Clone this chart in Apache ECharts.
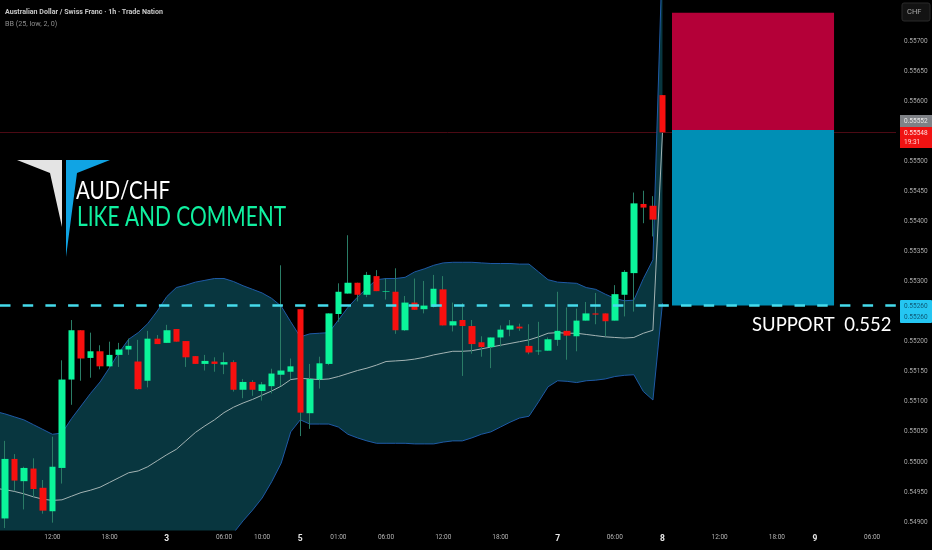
<!DOCTYPE html>
<html><head><meta charset="utf-8">
<style>html,body{margin:0;padding:0;background:#000}#c{width:932px;height:550px}</style>
<script src="https://cdn.jsdelivr.net/npm/echarts@6/dist/echarts.min.js"></script>
</head><body><div id="c"></div>
<script>
const opens=[0.54905,0.54906,0.55005,0.54968,0.54989,0.54957,0.54918,0.5499,0.55137,0.55219,0.55173,0.55184,0.55159,0.55178,0.55187,0.55167,0.55135,0.55205,0.55198,0.55221,0.55201,0.55176,0.55163,0.55167,0.55162,0.55166,0.5512,0.55133,0.55118,0.55126,0.55145,0.5515,0.55254,0.55081,0.55137,0.55163,0.55246,0.5528,0.55298,0.55278,0.55309,0.55283,0.55283,0.55219,0.55265,0.55254,0.55258,0.55287,0.55227,0.55236,0.55226,0.55199,0.55191,0.55207,0.5522,0.55225,0.55193,0.55184,0.55185,0.55203,0.55218,0.55209,0.55235,0.55247,0.55247,0.55235,0.55278,0.55314,0.55429,0.55426,0.5561];
const closes=[0.54906,0.55005,0.54969,0.5499,0.54955,0.54919,0.54992,0.55137,0.55219,0.55172,0.55184,0.55159,0.55178,0.55187,0.55193,0.55121,0.55205,0.55196,0.55219,0.552,0.55174,0.55163,0.55168,0.55163,0.55166,0.5512,0.55133,0.5512,0.55129,0.55147,0.55152,0.55159,0.55082,0.55138,0.55164,0.55247,0.55283,0.55298,0.55278,0.55311,0.55284,0.55284,0.55219,0.55265,0.55253,0.5526,0.55288,0.55227,0.55234,0.55226,0.55196,0.55191,0.55207,0.5522,0.55227,0.55222,0.55182,0.55185,0.55204,0.55218,0.5521,0.55235,0.55247,0.55245,0.55234,0.55279,0.55316,0.5543,0.55423,0.55403,0.55548];
const lows=[0.54895,0.5489,0.54952,0.54921,0.54942,0.54914,0.54899,0.54964,0.55095,0.55135,0.5514,0.55154,0.55157,0.55158,0.55178,0.5512,0.55124,0.55196,0.55198,0.552,0.55158,0.55163,0.55152,0.5515,0.55146,0.55117,0.55106,0.5511,0.55102,0.55114,0.55126,0.55138,0.55043,0.55055,0.55122,0.55161,0.55233,0.5528,0.55267,0.55274,0.55284,0.5527,0.55213,0.55218,0.55253,0.55247,0.55257,0.55227,0.55217,0.55143,0.5518,0.55175,0.55156,0.55192,0.55209,0.55218,0.55179,0.55178,0.55185,0.55193,0.5517,0.55184,0.55235,0.55229,0.55209,0.55235,0.55242,0.5525,0.55397,0.55375,0.55548];
const highs=[0.54925,0.55035,0.55013,0.54992,0.55006,0.5497,0.55042,0.55169,0.55236,0.55219,0.55215,0.55194,0.552,0.55198,0.55205,0.55203,0.55218,0.55211,0.55228,0.55221,0.55201,0.55176,0.55178,0.55174,0.55182,0.55169,0.55138,0.55136,0.55133,0.55155,0.55327,0.55172,0.55254,0.55163,0.55175,0.55247,0.55297,0.55377,0.55298,0.55316,0.55319,0.55305,0.55322,0.55276,0.55305,0.55301,0.55311,0.55309,0.55265,0.55264,0.55236,0.55209,0.55207,0.55227,0.55236,0.5523,0.55229,0.55233,0.55207,0.55283,0.55257,0.55255,0.55266,0.55281,0.55247,0.55294,0.55319,0.55448,0.55451,0.55442,0.5561];
const bbUpper=[0.55084,0.5508,0.55075,0.5507,0.55062,0.55054,0.55046,0.55048,0.55072,0.55093,0.55114,0.55133,0.55157,0.55182,0.55204,0.55215,0.5523,0.55251,0.55275,0.5529,0.55294,0.55299,0.55302,0.55305,0.55305,0.553,0.55293,0.55287,0.55281,0.55272,0.55259,0.55233,0.55208,0.55213,0.55214,0.55215,0.55236,0.55257,0.55274,0.55289,0.55303,0.55305,0.55305,0.55307,0.55316,0.55321,0.55327,0.55331,0.55332,0.55332,0.55332,0.55331,0.5533,0.5533,0.5533,0.55329,0.55329,0.55316,0.55303,0.55299,0.55298,0.55297,0.5529,0.55287,0.55279,0.55272,0.55268,0.55269,0.55305,0.55336,0.55851];
const bbBasis=[0.54956,0.54954,0.54951,0.54947,0.54942,0.54938,0.54936,0.54937,0.54943,0.54949,0.54953,0.54958,0.54966,0.54974,0.54982,0.54985,0.54992,0.55002,0.55012,0.55021,0.55035,0.55049,0.5506,0.5507,0.55082,0.55091,0.55098,0.55104,0.55111,0.55118,0.55126,0.55137,0.55139,0.55138,0.55137,0.55138,0.55142,0.55147,0.55152,0.55156,0.55161,0.55167,0.55168,0.55169,0.55171,0.55174,0.55178,0.55181,0.55184,0.55184,0.55185,0.55188,0.55191,0.55194,0.55197,0.552,0.55203,0.55208,0.55214,0.55215,0.55214,0.55214,0.55212,0.5521,0.55208,0.55207,0.55206,0.55207,0.55214,0.55219,0.55547];
const bbLower=[0.54828,0.54828,0.54827,0.54824,0.54822,0.54822,0.54826,0.54826,0.54814,0.54805,0.54792,0.54783,0.54775,0.54766,0.5476,0.54755,0.54754,0.54753,0.54749,0.54752,0.54776,0.54799,0.54818,0.54835,0.54859,0.54882,0.54902,0.5492,0.5494,0.54967,0.54998,0.5505,0.5507,0.55063,0.55063,0.55063,0.55058,0.55046,0.5504,0.55035,0.55031,0.55031,0.55031,0.55031,0.5503,0.5503,0.5503,0.55033,0.55035,0.55035,0.5504,0.55046,0.5505,0.55058,0.55066,0.55073,0.55076,0.551,0.55125,0.55135,0.55134,0.55132,0.55135,0.55136,0.55138,0.55142,0.55144,0.55145,0.55117,0.55103,0.55264];
const priceTicks=[0.549,0.5495,0.55,0.5505,0.551,0.5515,0.552,0.553,0.5535,0.554,0.5545,0.555,0.556,0.5565,0.557];
const timeTickIndex=[6,12,18,24,28,32,36,41,47,53,59,65,70,76,82,86,92];
const timeTickText=['12:00','18:00','3','06:00','10:00','5','01:00','06:00','12:00','18:00','7','06:00','8','12:00','18:00','9','06:00'];
const barCount=95;
const lastPrice=0.55548, supportPrice=0.5526;
const entryPrice=0.55552, stopPrice=0.55747;
const boxStartBar=71, boxEndBar=88;

const categories=[];
for(let i=0;i<barCount;i++){const k=timeTickIndex.indexOf(i);categories.push(k>=0?timeTickText[k]:'');}
const wickData=opens.map((o,i)=>[o,closes[i],lows[i],highs[i]]);
const bodyData=opens.map((o,i)=>[o,closes[i],Math.min(o,closes[i]),Math.max(o,closes[i])]);
const bandWidth=bbUpper.map((u,i)=>u-bbLower[i]);

const BAND='#08363f', BANDLINE='#1f5aa6', UP='#0bf59a', DOWN='#f8100f', WICK='#2a7c66';
const chart=echarts.init(document.getElementById('c'),null,{renderer:'canvas',width:932,height:550});
const t=(x,y,text,font,fill,sx)=>({type:'text',x,y,z:20,scaleX:sx||1,style:{text,font,fill,verticalAlign:'middle',align:'left'}});
const r=(x,y,w,h,fill,extra)=>({type:'rect',z:19,shape:Object.assign({x,y,width:w,height:h},extra&&extra.shape||{}),style:Object.assign({fill},extra&&extra.style||{})});
const tagFont='6.5px Roboto';
chart.setOption({
  animation:false,
  backgroundColor:'#000',
  grid:{left:-9.53,right:36,top:0,bottom:20,containLabel:false,outerBoundsMode:'none'},
  xAxis:{type:'category',data:categories,boundaryGap:true,
    axisLine:{show:false},axisTick:{show:false},splitLine:{show:false},
    axisLabel:{interval:0,margin:4,hideOverlap:false,color:'#b4b4b4',fontFamily:'Roboto',fontSize:6.5,
      formatter:v=>/^\d$/.test(v)?'{d|'+v+'}':v,
      rich:{d:{color:'#e8e8e8',fontFamily:'Roboto',fontSize:8.5,fontWeight:'bold'}}}},
  yAxis:{type:'value',position:'right',min:0.548868,max:0.557682,scale:true,
    axisLine:{show:false},axisTick:{show:false},splitLine:{show:false},
    axisLabel:{customValues:priceTicks,margin:8,color:'#a8a8a8',fontFamily:'Roboto',fontSize:6.5,formatter:v=>v.toFixed(5)}},
  series:[
    {name:'BB lower',type:'line',data:bbLower,stack:'bb',symbol:'none',z:2,silent:true,
      lineStyle:{color:BANDLINE,width:1}},
    {name:'BB band',type:'line',data:bandWidth,stack:'bb',symbol:'none',z:2,silent:true,
      lineStyle:{color:BANDLINE,width:1},areaStyle:{color:BAND,opacity:1}},
    {name:'BB basis',type:'line',data:bbBasis,symbol:'none',z:3,silent:true,
      lineStyle:{color:'#a4b4b4',width:1}},
    {name:'Wicks',type:'candlestick',data:wickData,barWidth:1,z:4,silent:true,
      itemStyle:{color:WICK,color0:WICK,borderColor:WICK,borderColor0:WICK,borderWidth:1},
      markLine:{silent:true,symbol:'none',z:0,precision:5,label:{show:false},
        lineStyle:{color:'#4c0a14',width:1,type:'solid'},data:[{yAxis:lastPrice}]}},
    {name:'AUD/CHF',type:'candlestick',data:bodyData,barWidth:7,z:5,silent:true,
      itemStyle:{color:UP,color0:DOWN,borderColor:UP,borderColor0:DOWN,borderWidth:0},
      markArea:{silent:true,z:1,precision:5,data:[
        [{xAxis:boxStartBar,yAxis:stopPrice,itemStyle:{color:'#b40038',opacity:1}},{xAxis:boxEndBar,yAxis:entryPrice}],
        [{xAxis:boxStartBar,yAxis:entryPrice,itemStyle:{color:'#008fb5',opacity:1}},{xAxis:boxEndBar,yAxis:supportPrice}]
      ]},
      markLine:{silent:true,symbol:'none',z:6,precision:5,label:{show:false},
        lineStyle:{color:'#45dbec',width:2.6,type:[10.5,12.2],dashOffset:13.17},data:[{yAxis:supportPrice}]}}
  ],
  graphic:[
    t(5,12,'Australian Dollar / Swiss Franc · 1h · Trade Nation','bold 7.1px Roboto','#c8c8c8'),
    t(5,24,'BB (25, low, 2, 0)','7.2px Roboto','#8c8c8c'),
    {type:'polygon',z:18,shape:{points:[[17,160],[62,160],[62,227],[50,173]]},style:{fill:'#e4e4e4'}},
    {type:'polygon',z:18,shape:{points:[[66,160],[110,160],[77,173],[66,257]]},style:{fill:'#10a4e4'}},
    t(76,191,'AUD/CHF','25px Lato','#ffffff',0.82),
    t(77,217.5,'LIKE AND COMMENT','26px Lato','#10f0a0',0.805),
    t(752,324.5,'SUPPORT  0.552','20px Lato','#ffffff',0.925),
    r(902,3,28,18,'#131313',{shape:{r:2},style:{stroke:'#2a2a2a',lineWidth:1}}),
    t(907,12,'CHF','7.5px Roboto','#a8a8a8'),
    r(900,115,32,12,'#7e8186'),
    t(904,121,'0.55552',tagFont,'#e8e8e8'),
    r(900,127,32,21,'#f01212'),
    t(904,133,'0.55548',tagFont,'#ffe0e0'),
    t(904,142,'19:31',tagFont,'#ffd0d0'),
    r(900,300,32,23,'#25c6f2',{shape:{r:1}}),
    t(904,306.5,'0.55260',tagFont,'#0d5a78'),
    t(904,317,'0.55260',tagFont,'#0d5a78')
  ]
});
</script></body></html>
